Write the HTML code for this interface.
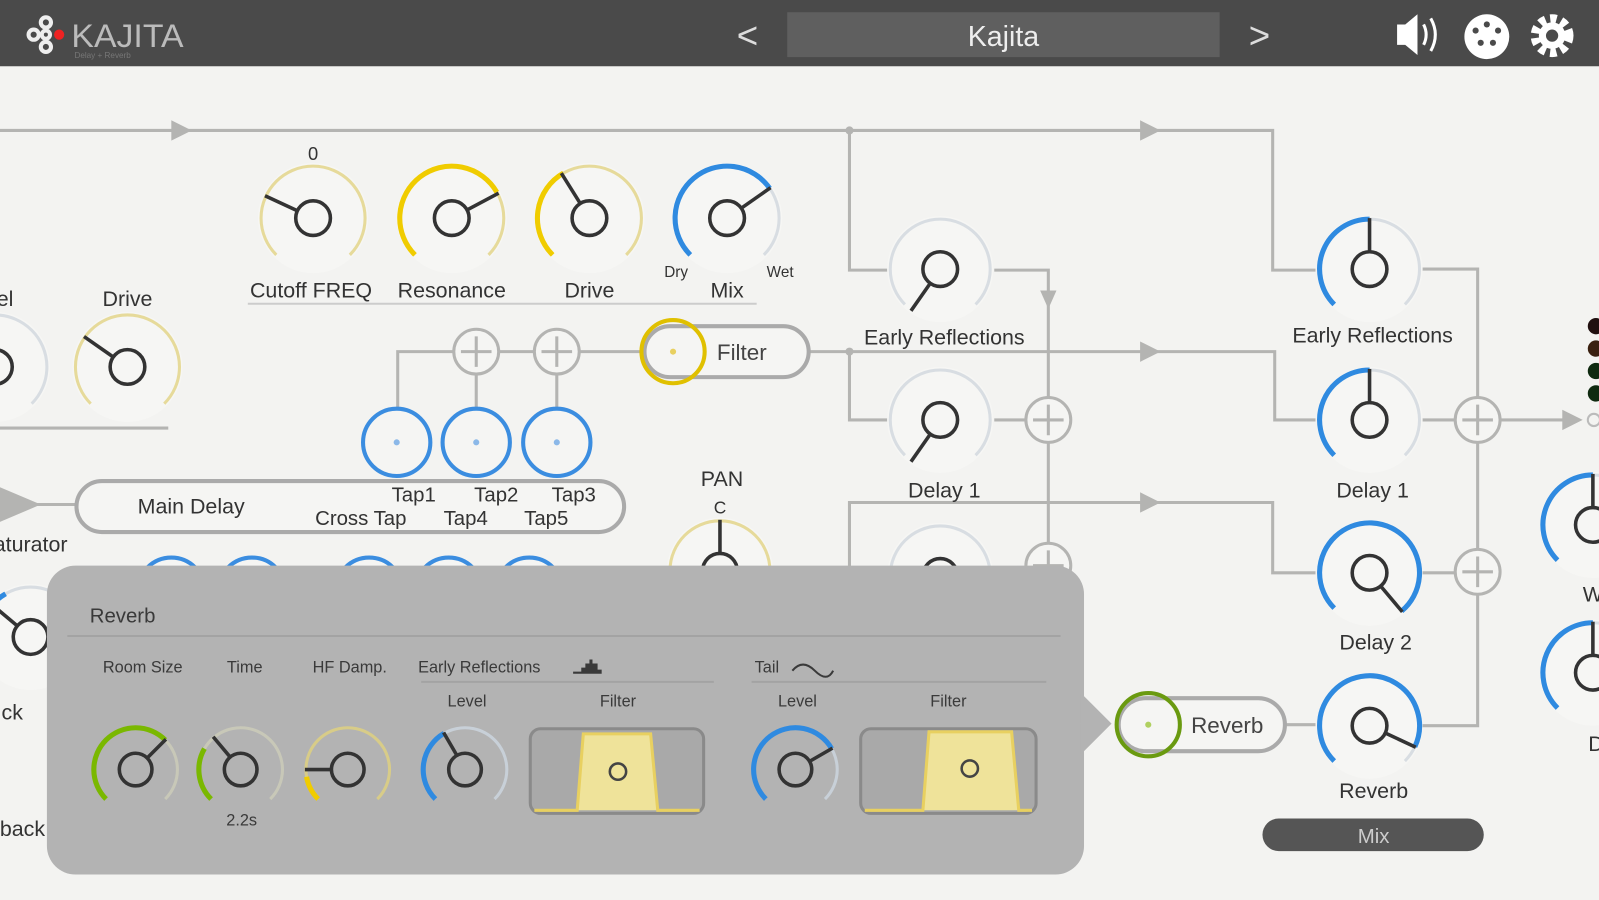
<!DOCTYPE html>
<html><head><meta charset="utf-8"><style>
html,body{margin:0;padding:0;background:#f3f3f1;overflow:hidden}
svg{display:block}
text{font-family:"Liberation Sans",sans-serif}
</style></head><body>
<svg id="s" width="1599" height="900" viewBox="0 0 1568 883" preserveAspectRatio="none" xmlns="http://www.w3.org/2000/svg">
<rect width="1568" height="883" fill="#f3f3f1"/>
<rect width="1568" height="65" fill="#4a4a4a"/>
<g fill="none" stroke="#eee" stroke-width="4">
<circle cx="45" cy="22" r="5"/><circle cx="33" cy="34" r="5"/><circle cx="45" cy="46" r="5"/><circle cx="45" cy="34" r="4"/>
</g>
<circle cx="58" cy="34" r="5" fill="#e22"/>
<text x="70" y="46" font-size="32" fill="#bbb" textLength="110" lengthAdjust="spacingAndGlyphs">KAJITA</text>
<text x="73" y="57" font-size="8" fill="#777">Delay + Reverb</text>
<text x="733" y="47" font-size="36" fill="#ddd" text-anchor="middle">&lt;</text>
<rect x="772" y="12" width="424" height="44" fill="#5f5f5f"/>
<text x="984" y="45" font-size="28" fill="#eee" text-anchor="middle">Kajita</text>
<text x="1235" y="47" font-size="36" fill="#ddd" text-anchor="middle">&gt;</text>
<path d="M1370 24h8l12-10v40l-12-10h-8z" fill="#fff"/>
<path d="M1396 24q5 10 0 20M1403 18q9 16 0 32" stroke="#fff" stroke-width="3" fill="none"/>
<circle cx="1458" cy="36" r="22" fill="#fff"/>
<g fill="#4a4a4a"><circle cx="1447" cy="30" r="3"/><circle cx="1458" cy="24" r="3"/><circle cx="1469" cy="30" r="3"/><circle cx="1452" cy="42" r="3"/><circle cx="1464" cy="42" r="3"/></g>
<circle cx="1522" cy="35" r="16" fill="none" stroke="#fff" stroke-width="10" stroke-dasharray="6 4.5"/>
<circle cx="1522" cy="35" r="13" fill="#fff"/><circle cx="1522" cy="35" r="6" fill="#4a4a4a"/>

<g stroke="#b4b4b2" stroke-width="3" fill="none">
<path d="M0 128H1248V265H1290"/>
<path d="M833 128V265H870"/>
<path d="M975 265H1028V555"/>
<path d="M390 430V345H630"/>
<path d="M467 367V400M546 367V400"/>
<path d="M793 345H1250V412H1290"/>
<path d="M833 345V412H870"/>
<path d="M975 412H1006M1050 412H1028"/>
<path d="M833 560V493H1248V562H1290"/>
<path d="M1395 264H1449V712H1395"/>
<path d="M1395 412H1428M1471 412H1540"/>
<path d="M1395 562H1428"/>
<path d="M1260 711H1290"/>
<path d="M0 495H75"/>
<path d="M0 420H165"/>
</g>
<g fill="#b4b4b2">
<path d="M168 118l20 10-20 10z"/><path d="M1118 118l20 10-20 10z"/>
<path d="M1118 335l20 10-20 10z"/><path d="M1118 483l20 10-20 10z"/>
<path d="M1020 285l8 18 8-18z"/><path d="M1532 402l20 10-20 10z"/>
<circle cx="833" cy="128" r="4"/><circle cx="833" cy="345" r="4"/>
<path d="M0 478l40 17-40 17z"/>
</g>
<circle cx="1563" cy="412" r="6" fill="#f3f3f1" stroke="#bbb" stroke-width="2"/>
<g><circle cx="1565" cy="320" r="8" fill="#201010"/><circle cx="1565" cy="342" r="8" fill="#3a2010"/><circle cx="1565" cy="364" r="8" fill="#0f2a10"/><circle cx="1565" cy="386" r="8" fill="#0f2a10"/></g>
<line x1="243" y1="298" x2="742" y2="298" stroke="#ccc" stroke-width="2"/>

<g id="knobs"></g>

<g fill="#f5f5f3" stroke="#b4b4b2" stroke-width="3">
<circle cx="467" cy="345" r="22"/><circle cx="546" cy="345" r="22"/>
<circle cx="1028" cy="412" r="22"/><circle cx="1028" cy="555" r="22"/>
<circle cx="1449" cy="412" r="22"/><circle cx="1449" cy="561" r="22"/>
</g>
<g stroke="#b4b4b2" stroke-width="3">
<path d="M467 330v30M452 345h30M546 330v30M531 345h30M1028 397v30M1013 412h30M1028 540v30M1013 555h30M1449 397v30M1434 412h30M1449 546v30M1434 561h30"/>
</g>
<g fill="#f5f5f3" stroke="#3b8de0" stroke-width="4">
<circle cx="389" cy="434" r="33"/><circle cx="467" cy="434" r="33"/><circle cx="546" cy="434" r="33"/>
<circle cx="168" cy="580" r="33"/><circle cx="247" cy="580" r="33"/><circle cx="362" cy="580" r="33"/><circle cx="440" cy="580" r="33"/><circle cx="519" cy="580" r="33"/>
</g>
<g fill="#8bb8e8"><circle cx="389" cy="434" r="3"/><circle cx="467" cy="434" r="3"/><circle cx="546" cy="434" r="3"/></g>
<rect x="632" y="320" width="161" height="50" rx="25" fill="#f5f5f3" stroke="#aaa" stroke-width="4"/>
<circle cx="660" cy="345" r="31" fill="none" stroke="#e0c000" stroke-width="4"/>
<circle cx="660" cy="345" r="3" fill="#e8d060"/>
<text x="703" y="353" font-size="22" fill="#444">Filter</text>
<rect x="75" y="472" width="537" height="50" rx="25" fill="#f5f5f3" stroke="#aaa" stroke-width="4"/>
<text x="135" y="504" font-size="21" fill="#333">Main Delay</text>
<text x="309" y="515" font-size="20" fill="#333">Cross Tap</text>
<text x="384" y="492" font-size="20" fill="#333">Tap1</text><text x="465" y="492" font-size="20" fill="#333">Tap2</text><text x="541" y="492" font-size="20" fill="#333">Tap3</text>
<text x="435" y="515" font-size="20" fill="#333">Tap4</text><text x="514" y="515" font-size="20" fill="#333">Tap5</text>
<rect x="1097" y="685" width="163" height="52" rx="26" fill="#f5f5f3" stroke="#aaa" stroke-width="4"/>
<circle cx="1126" cy="711" r="31" fill="none" stroke="#6a9a10" stroke-width="4"/>
<circle cx="1126" cy="711" r="3" fill="#b0d060"/>
<text x="1168" y="719" font-size="22" fill="#444">Reverb</text>
<rect x="1238" y="803" width="217" height="32" rx="16" fill="#555"/>
<text x="1347" y="827" font-size="20" fill="#ccc" text-anchor="middle">Mix</text>

<g font-size="21" fill="#333" text-anchor="middle">
<text x="307" y="157" font-size="18">0</text>
<text x="305" y="292">Cutoff FREQ</text><text x="443" y="292">Resonance</text><text x="578" y="292">Drive</text><text x="713" y="292">Mix</text>
<text x="663" y="272" font-size="15">Dry</text><text x="765" y="272" font-size="15">Wet</text>
<text x="125" y="300">Drive</text><text x="5" y="300">el</text>
<text x="926" y="338">Early Reflections</text><text x="926" y="488">Delay 1</text>
<text x="1346" y="336">Early Reflections</text><text x="1346" y="488">Delay 1</text>
<text x="1349" y="637">Delay 2</text><text x="1347" y="783">Reverb</text>
<text x="708" y="477">PAN</text><text x="706" y="504" font-size="17">C</text>
<text x="30" y="541">aturator</text><text x="12" y="706">ck</text><text x="22" y="820">back</text>
<text x="1562" y="590">W</text><text x="1565" y="737">D</text>
</g>

<rect x="46" y="555" width="1017" height="303" rx="28" fill="#b3b3b3"/>
<path d="M1060 680L1090 710L1060 740z" fill="#b3b3b3"/>
<text x="88" y="611" font-size="20" fill="#3a3a3a">Reverb</text>
<line x1="66" y1="624" x2="1040" y2="624" stroke="#a3a3a3" stroke-width="2"/>
<g font-size="16" fill="#3a3a3a" text-anchor="middle">
<text x="140" y="660">Room Size</text><text x="240" y="660">Time</text><text x="343" y="660">HF Damp.</text>
<text x="470" y="660">Early Reflections</text><text x="752" y="660">Tail</text>
<text x="458" y="693">Level</text><text x="606" y="693">Filter</text>
<text x="782" y="693">Level</text><text x="930" y="693">Filter</text>
<text x="237" y="810">2.2s</text>
</g>
<path d="M562 661h28v-4h-4v-6h-5v-4h-3v4h-4v4h-4v4h-8z" fill="#3a3a3a"/>
<path d="M777 658q10-12 22 0t18 0" stroke="#3a3a3a" stroke-width="2" fill="none"/>
<line x1="413" y1="669" x2="700" y2="669" stroke="#a3a3a3" stroke-width="2"/>
<line x1="737" y1="669" x2="1026" y2="669" stroke="#a3a3a3" stroke-width="2"/>
<rect x="520" y="715" width="170" height="83" rx="10" fill="#a9a9a9" stroke="#8a8a8a" stroke-width="3"/>
<path d="M524 795L566 795L572 720L638 720L645 795L686 795" fill="#efe39a" stroke="#e8d060" stroke-width="3"/>
<circle cx="606" cy="757" r="8" fill="none" stroke="#444" stroke-width="2.5"/>
<rect x="844" y="715" width="172" height="83" rx="10" fill="#a9a9a9" stroke="#8a8a8a" stroke-width="3"/>
<path d="M848 795L905 795L911 718L992 718L999 795L1012 795" fill="#efe39a" stroke="#e8d060" stroke-width="3"/>
<circle cx="951" cy="754" r="8" fill="none" stroke="#444" stroke-width="2.5"/>
<g id="pk"></g>
</svg>
<script>
function pt(cx,cy,r,a){a=(a-90)*Math.PI/180;return [cx+r*Math.cos(a),cy+r*Math.sin(a)];}
function arc(cx,cy,r,a0,a1){var p=pt(cx,cy,r,a0),q=pt(cx,cy,r,a1);return "M"+p[0]+" "+p[1]+"A"+r+" "+r+" 0 "+((a1-a0)>180?1:0)+" 1 "+q[0]+" "+q[1];}
function knob(g,cx,cy,r,col,track,a1,pa,bg,ir){
 var s="";
 if(bg)s+='<circle cx="'+cx+'" cy="'+cy+'" r="'+r+'" fill="'+bg+'"/>';
 s+='<path d="'+arc(cx,cy,r-3,-135,135)+'" stroke="'+track+'" stroke-width="3" fill="none"/>';
 if(a1>-135)s+='<path d="'+arc(cx,cy,r-3,-135,a1)+'" stroke="'+col+'" stroke-width="5" fill="none"/>';
 ir=ir||17;var p=pt(cx,cy,ir,pa),q=pt(cx,cy,r-2,pa);
 s+='<line x1="'+p[0]+'" y1="'+p[1]+'" x2="'+q[0]+'" y2="'+q[1]+'" stroke="#333" stroke-width="3.5"/>';
 s+='<circle cx="'+cx+'" cy="'+cy+'" r="'+ir+'" fill="none" stroke="#333" stroke-width="3.5"/>';
 document.getElementById(g).insertAdjacentHTML('beforeend',s);
}
var Y="#f0cc00",PY="#e6da9a",B="#2f8ae0",T="#d8dde2",BG="#f6f6f4";
knob("knobs",307,214,54,Y,PY,-135,-65,BG);
knob("knobs",443,214,54,Y,PY,60,62,BG);
knob("knobs",578,214,54,Y,PY,-30,-32,BG);
knob("knobs",713,214,54,B,T,55,55,BG);
knob("knobs",125,360,54,Y,PY,-135,-55,BG);
knob("knobs",-5,360,54,B,T,-30,-30,BG);
knob("knobs",922,264,52,B,T,-135,215,BG);
knob("knobs",922,412,52,B,T,-135,215,BG);
knob("knobs",922,565,52,B,T,-135,215,BG);
knob("knobs",1343,264,52,B,T,0,0,BG);
knob("knobs",1343,412,52,B,T,0,0,BG);
knob("knobs",1343,562,52,B,T,140,140,BG);
knob("knobs",1343,712,52,B,T,115,115,BG);
knob("knobs",706,560,52,Y,PY,-135,0,BG);
knob("knobs",1562,515,52,B,T,0,0,BG);
knob("knobs",1562,660,52,B,T,0,0,BG);
knob("knobs",30,625,52,B,T,-30,-50,BG);
var G="#7ab800";
knob("pk",133,755,44,G,"#c8c8b8",45,45,null,16);
knob("pk",236,755,44,G,"#c8c8b8",-60,-40,null,16);
knob("pk",341,755,44,Y,"#d8cc88",-100,-90,null,16);
knob("pk",456,755,44,B,"#c8d0d8",-30,-30,null,16);
knob("pk",780,755,44,B,"#c8d0d8",60,60,null,16);
</script>
</body></html>
